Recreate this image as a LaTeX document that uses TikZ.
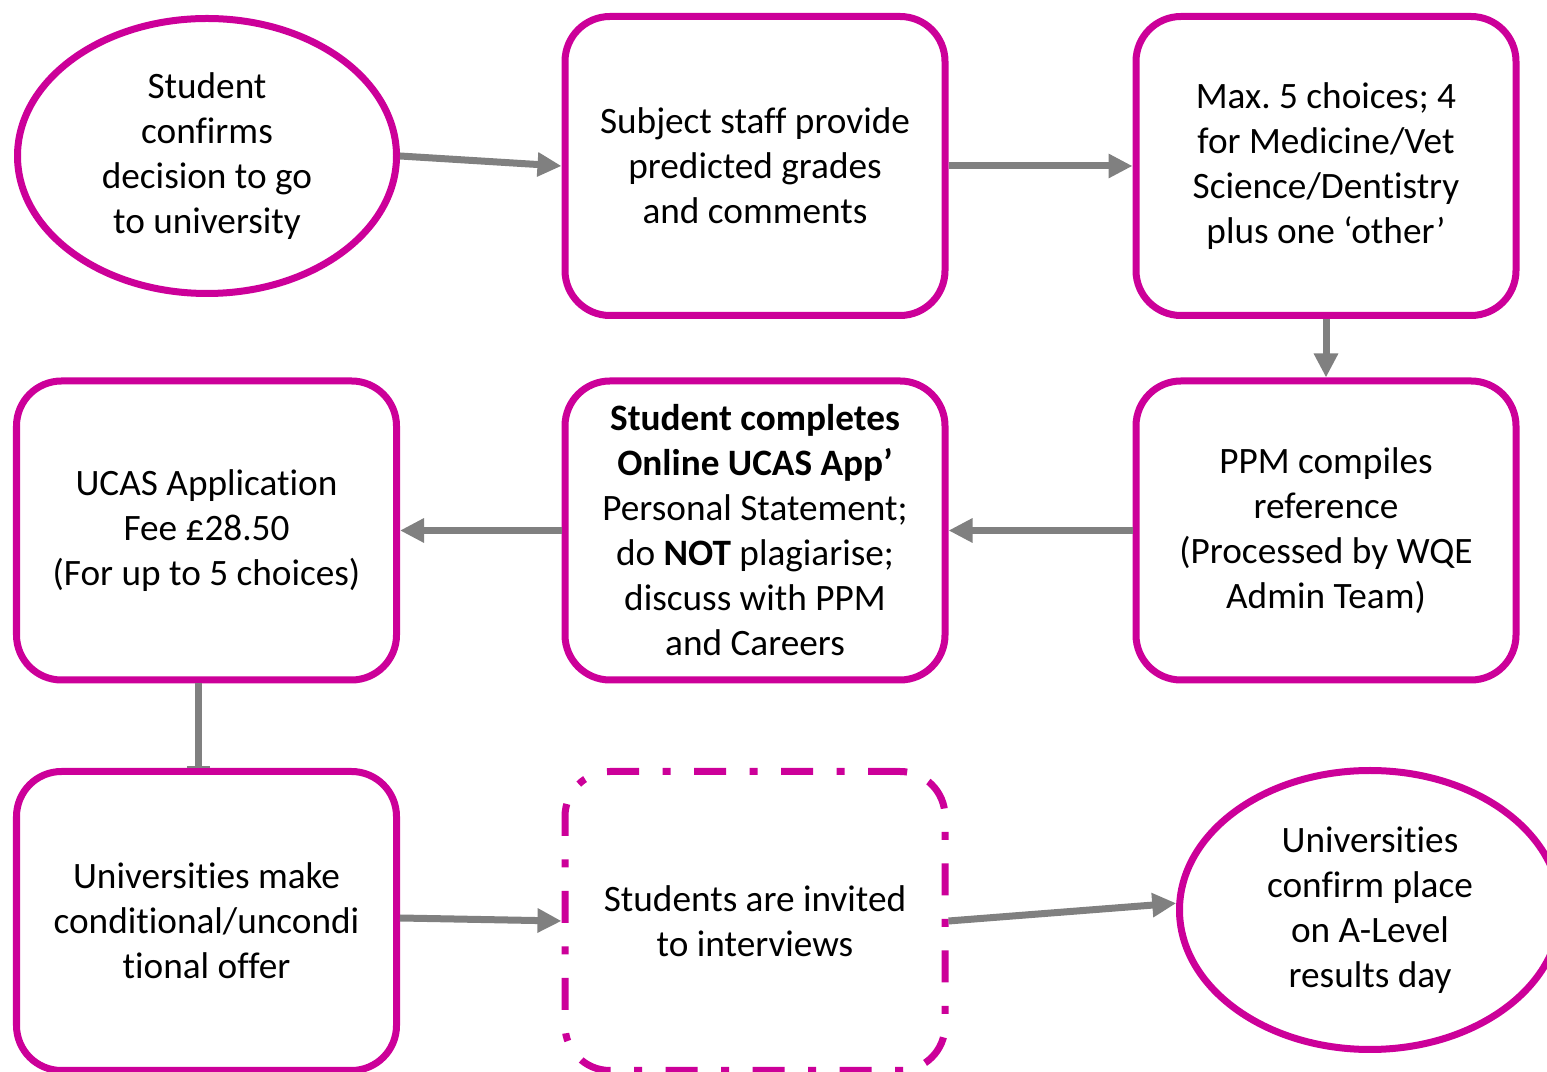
\documentclass[tikz,border=0pt]{standalone}
\usepackage{fontspec}
\setmainfont[Ligatures = NoCommon]{Carlito}
\usepackage{xcolor}
\usepackage{tikz}
\usetikzlibrary{positioning}
\usetikzlibrary{arrows.meta}
\usetikzlibrary{shapes}
\frenchspacing

\definecolor{ucaspink}{RGB}{204,0,153}
\definecolor{arrowgrey}{RGB}{128,128,128}

\begin{document}
\begin{tikzpicture}[
                	    box/.style = { rectangle, rounded corners = 0.45cm, draw = ucaspink, fill = white, line width = 0.07cm, minimum width = 3.8cm, minimum height = 2.99cm, align = center, text = black, font = \fontsize{10.6}{12.8}\selectfont, inner sep=0pt },
                		oval/.style = { ellipse, draw = ucaspink, fill = white, line width = 0.07cm, minimum width = 3.79cm, minimum height = 2.75cm, align = center, text = black, font = \fontsize{10.6}{12.8}\selectfont, inner sep=0pt },
                		maybe/.style = { box, dash pattern = on 0.32cm off 0.235cm on 0.08cm off 0.235cm },
                		link/.style = { draw = arrowgrey, line width = 0.07cm, -{Triangle[length = 0.24cm, width = 0.23cm]} },
                		tie/.style = { draw = arrowgrey, line width = 0.07cm, -{Bar[width = 0.23cm, line width = 0.02cm]} },
            		]
            		    \useasboundingbox (0,0) rectangle (15.47,-10.72);
            		    % first row
            		    \node[oval] (Decide) at (2.07,-1.56) {Student\\confirms\\decision to go\\to university};
            		    \node[box] (Grades) at (7.55,-1.66) {Subject staff provide\\predicted grades\\and comments};
            		    \node[box] (Choices) at (13.26,-1.66) {Max. 5 choices; 4\\for Medicine/Vet\\Science/Dentistry\\plus one ‘other’};
            		    % second row
            		    \node[box] (Fee) at (2.065,-5.305) {UCAS Application\\Fee £28.50\\(For up to 5 choices)};
            		    \node[box] (App) at (7.55,-5.305) {\textbf{Student completes}\\\textbf{Online UCAS App’}\\Personal Statement;\\do \textbf{NOT} plagiarise;\\discuss with PPM\\and Careers};
            		    \node[box] (Reference) at (13.26,-5.305) {PPM compiles\\reference\\(Processed by WQE\\Admin Team)};
            		    % third row
            		    \node[box] (Offer) at (2.065,-9.21) {Universities make\\conditional/uncondi\\tional offer};
            		    \node[maybe] (Interview) at (7.55,-9.21) {Students are invited\\to interviews};
            		    \node[oval, minimum width = 3.81cm, minimum height = 2.79cm] (Confirm) at (13.70,-9.10) {Universities\\confirm place\\on A-Level\\results day};
            		    % arrows
            		    \draw[link] (Decide.east) -- (Grades.west);
            		    \draw[link] (Grades.east) -- (Choices.west);
            		    \draw[link] (Choices.south) -- (Reference.north);
            		    \draw[link] (Reference.west) -- (App.east);
            		    \draw[link] (App.west) -- (Fee.east);
            		    \draw[tie] ([xshift=-0.08cm]Fee.south) -- ([xshift=-0.08cm]Offer.north);
            		    \draw[link] ([yshift=0.03cm]Offer.east) -- (Interview.west);
            		    \draw[link] (Interview.east) -- (Confirm.178);
            		\end{tikzpicture}
\end{document}
